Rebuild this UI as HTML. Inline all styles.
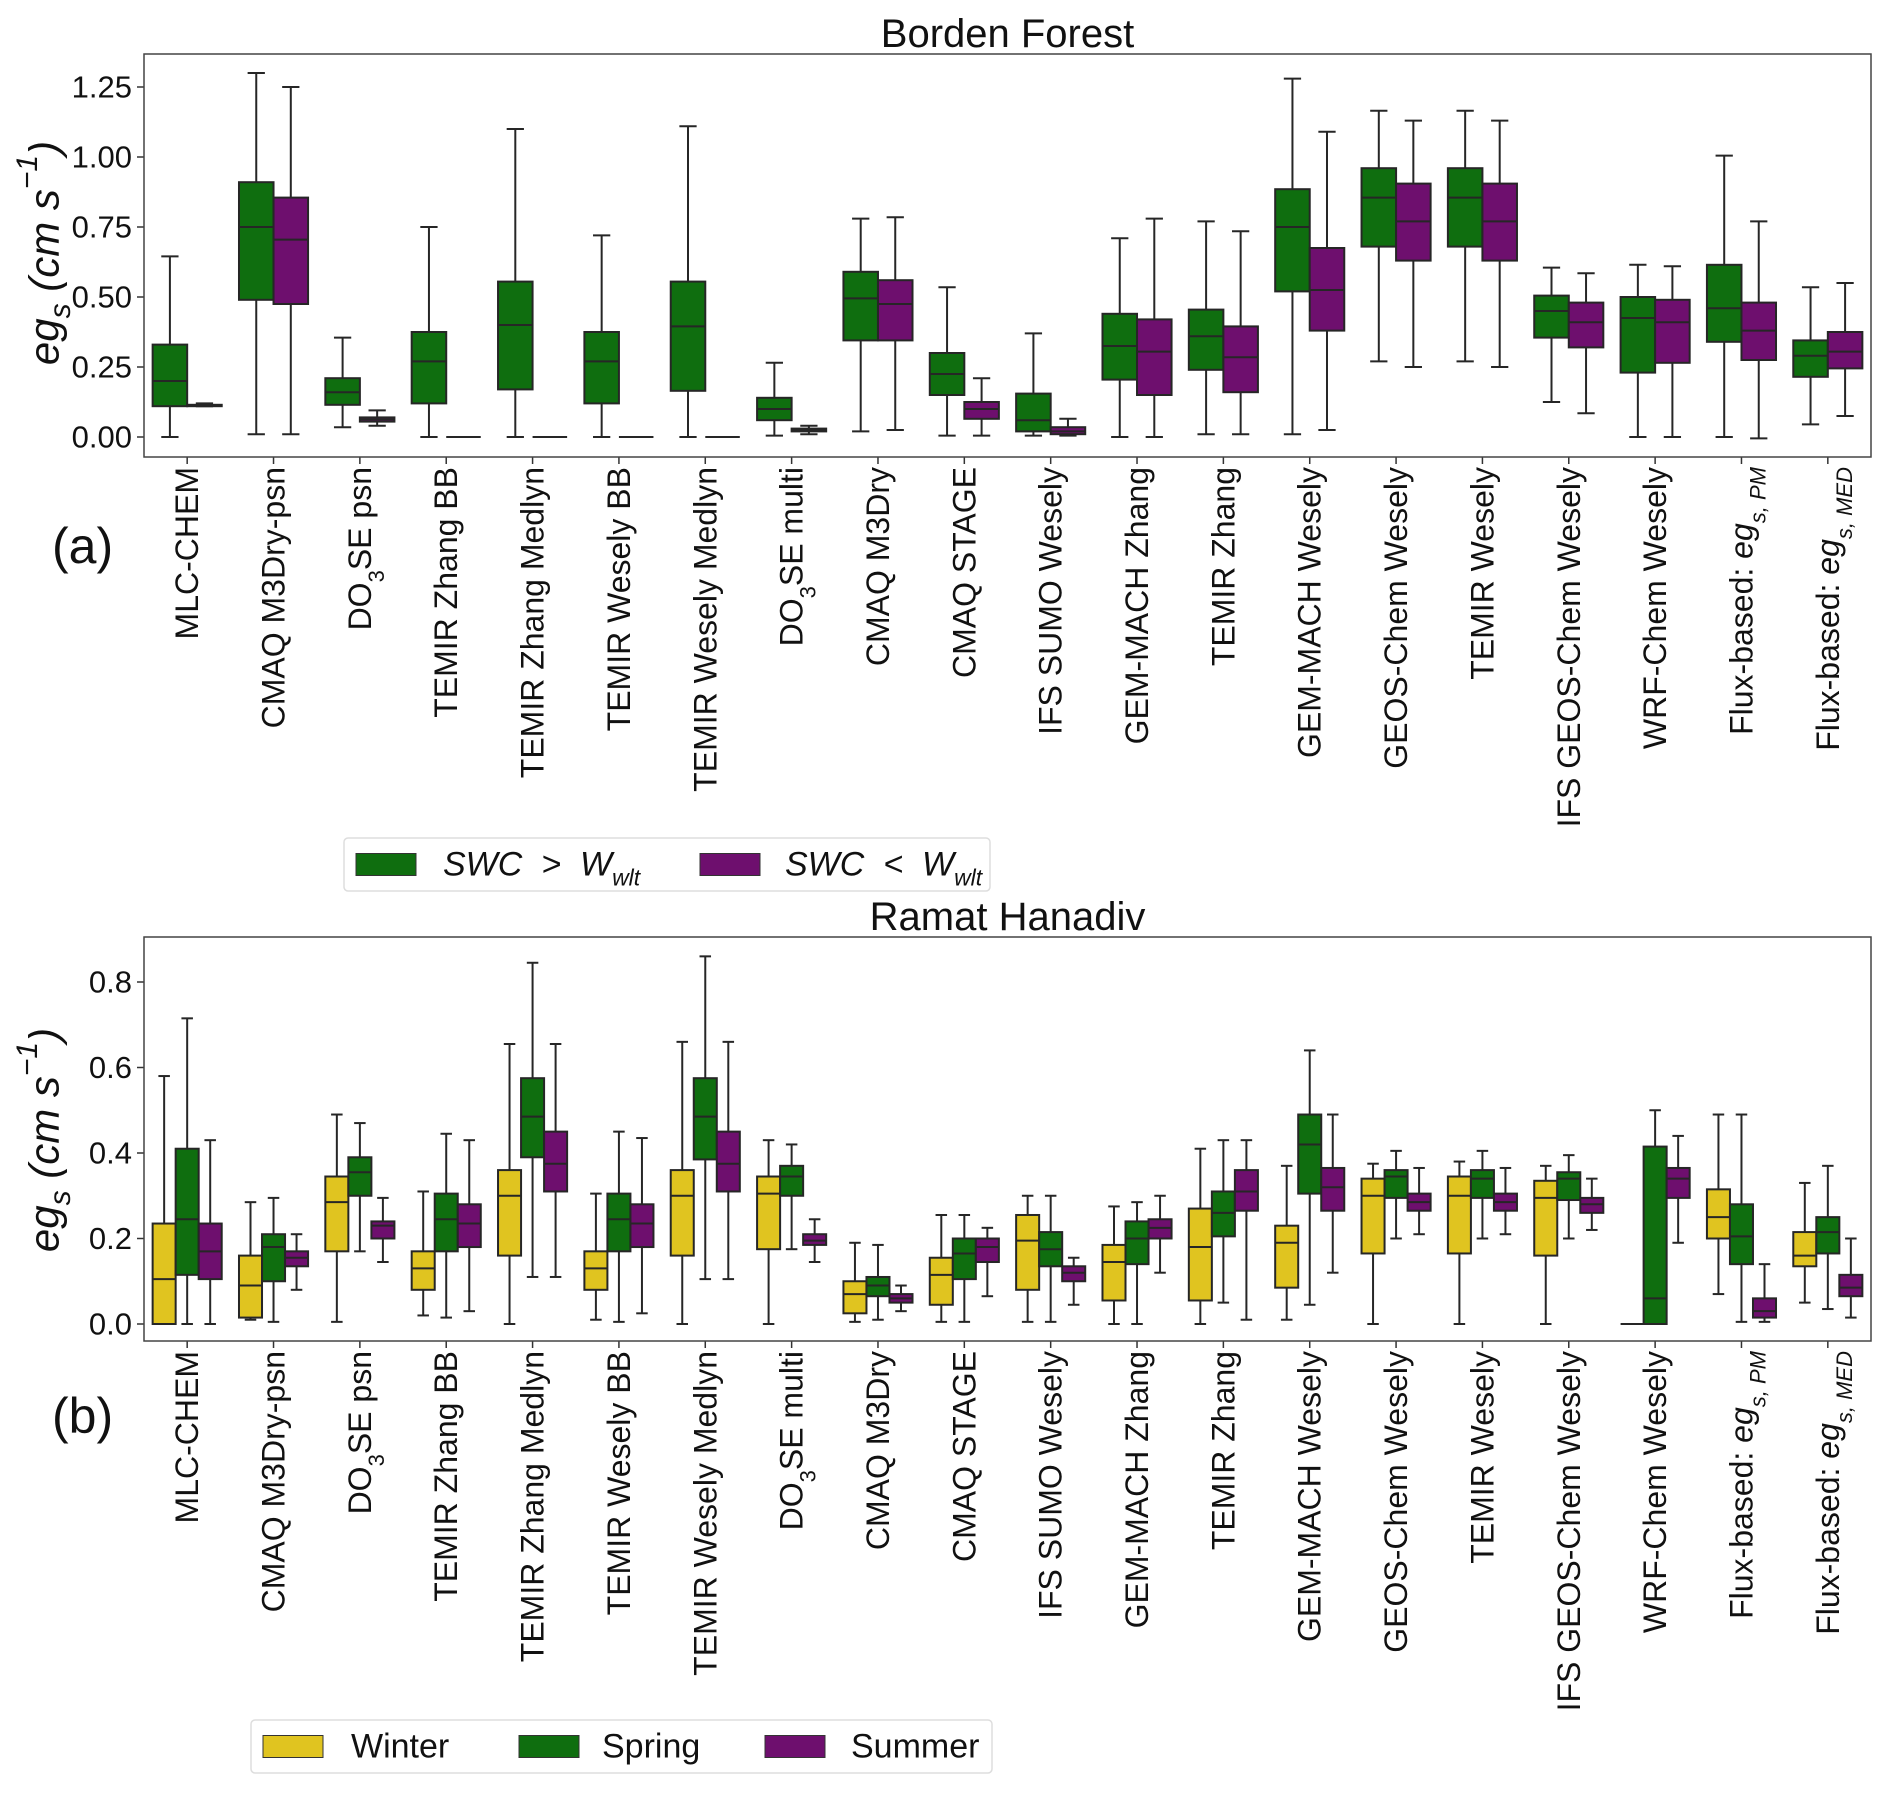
<!DOCTYPE html>
<html><head><meta charset="utf-8">
<style>
html,body{margin:0;padding:0;background:#fff;}
svg{display:block;font-family:"Liberation Sans","DejaVu Sans",sans-serif;}
</style></head>
<body>
<svg id="chart" width="1892" height="1794" viewBox="0 0 1892 1794" xmlns="http://www.w3.org/2000/svg">
<rect width="1892" height="1794" fill="#fff"/>
<g id="panelA"></g>
<g id="panelB"></g>
</svg>
<script>
const categories = ["MLC-CHEM","CMAQ M3Dry-psn","DO3SE psn","TEMIR Zhang BB","TEMIR Zhang Medlyn","TEMIR Wesely BB","TEMIR Wesely Medlyn","DO3SE multi","CMAQ M3Dry","CMAQ STAGE","IFS SUMO Wesely","GEM-MACH Zhang","TEMIR Zhang","GEM-MACH Wesely","GEOS-Chem Wesely","TEMIR Wesely","IFS GEOS-Chem Wesely","WRF-Chem Wesely","Flux-based: PM","Flux-based: MED"];
const aWet = [[0,0.11,0.2,0.33,0.645],[0.01,0.49,0.75,0.91,1.3],[0.035,0.115,0.16,0.21,0.355],[0,0.12,0.27,0.375,0.75],[0,0.17,0.4,0.555,1.1],[0,0.12,0.27,0.375,0.72],[0,0.165,0.395,0.555,1.11],[0.005,0.06,0.1,0.14,0.265],[0.02,0.345,0.495,0.59,0.78],[0.005,0.15,0.225,0.3,0.535],[0.005,0.02,0.06,0.155,0.37],[0,0.205,0.325,0.44,0.71],[0.01,0.24,0.36,0.455,0.77],[0.01,0.52,0.75,0.885,1.28],[0.27,0.68,0.855,0.96,1.165],[0.27,0.68,0.855,0.96,1.165],[0.125,0.355,0.45,0.505,0.605],[0,0.23,0.425,0.5,0.615],[0,0.34,0.46,0.615,1.005],[0.045,0.215,0.29,0.345,0.535]];
const aDry = [[0.11,0.11,0.113,0.115,0.12],[0.01,0.475,0.705,0.855,1.25],[0.04,0.055,0.063,0.07,0.095],[0,0,0,0,0],[0,0,0,0,0],[0,0,0,0,0],[0,0,0,0,0],[0.01,0.02,0.025,0.03,0.04],[0.025,0.345,0.475,0.56,0.785],[0.005,0.065,0.1,0.125,0.21],[0.005,0.01,0.02,0.035,0.065],[0,0.15,0.305,0.42,0.78],[0.01,0.16,0.285,0.395,0.735],[0.025,0.38,0.525,0.675,1.09],[0.25,0.63,0.77,0.905,1.13],[0.25,0.63,0.77,0.905,1.13],[0.085,0.32,0.41,0.48,0.585],[0,0.265,0.41,0.49,0.61],[-0.005,0.275,0.38,0.48,0.77],[0.075,0.245,0.305,0.375,0.55]];
const bWinter = [[0,0,0.105,0.235,0.58],[0.01,0.015,0.09,0.16,0.285],[0.005,0.17,0.285,0.345,0.49],[0.02,0.08,0.13,0.17,0.31],[0,0.16,0.3,0.36,0.655],[0.01,0.08,0.13,0.17,0.305],[0,0.16,0.3,0.36,0.66],[0,0.175,0.305,0.345,0.43],[0.005,0.025,0.07,0.1,0.19],[0.005,0.045,0.115,0.155,0.255],[0.005,0.08,0.195,0.255,0.3],[0,0.055,0.145,0.185,0.275],[0,0.055,0.18,0.27,0.41],[0.01,0.085,0.19,0.23,0.37],[0,0.165,0.3,0.34,0.375],[0,0.165,0.3,0.345,0.38],[0,0.16,0.295,0.335,0.37],[0,0,0,0,0],[0.07,0.2,0.25,0.315,0.49],[0.05,0.135,0.16,0.215,0.33]];
const bSpring = [[0,0.115,0.245,0.41,0.715],[0.005,0.1,0.18,0.21,0.295],[0.17,0.3,0.355,0.39,0.47],[0.015,0.17,0.245,0.305,0.445],[0.11,0.39,0.485,0.575,0.845],[0.005,0.17,0.245,0.305,0.45],[0.105,0.385,0.485,0.575,0.86],[0.175,0.3,0.345,0.37,0.42],[0.01,0.065,0.09,0.11,0.185],[0.005,0.105,0.165,0.2,0.255],[0.005,0.135,0.175,0.215,0.3],[0,0.14,0.2,0.24,0.285],[0.05,0.205,0.26,0.31,0.43],[0.045,0.305,0.42,0.49,0.64],[0.2,0.295,0.345,0.36,0.405],[0.2,0.295,0.34,0.36,0.405],[0.2,0.29,0.34,0.355,0.395],[0,0,0.06,0.415,0.5],[0.005,0.14,0.205,0.28,0.49],[0.035,0.165,0.215,0.25,0.37]];
const bSummer = [[0,0.105,0.17,0.235,0.43],[0.08,0.135,0.155,0.17,0.21],[0.145,0.2,0.23,0.24,0.295],[0.03,0.18,0.235,0.28,0.43],[0.11,0.31,0.375,0.45,0.655],[0.025,0.18,0.235,0.28,0.435],[0.105,0.31,0.375,0.45,0.66],[0.145,0.185,0.195,0.21,0.245],[0.03,0.05,0.06,0.07,0.09],[0.065,0.145,0.18,0.2,0.225],[0.045,0.1,0.12,0.135,0.155],[0.12,0.2,0.225,0.245,0.3],[0.01,0.265,0.31,0.36,0.43],[0.12,0.265,0.32,0.365,0.49],[0.21,0.265,0.285,0.305,0.365],[0.21,0.265,0.285,0.305,0.365],[0.22,0.26,0.28,0.295,0.34],[0.19,0.295,0.34,0.365,0.44],[0.005,0.015,0.03,0.06,0.14],[0.015,0.065,0.085,0.115,0.2]];
const aTicks = [0,0.25,0.5,0.75,1.0,1.25];
const aTickLabels = ["0.00","0.25","0.50","0.75","1.00","1.25"];
const bTicks = [0,0.2,0.4,0.6,0.8];
const bTickLabels = ["0.0","0.2","0.4","0.6","0.8"];

const NS="http://www.w3.org/2000/svg";
const GREEN="#0f6e0f", PURPLE="#6e0f6e", YELLOW="#e0c420", EDGE="#262626";
function mk(tag, attrs, parent){const e=document.createElementNS(NS,tag);for(const k in attrs)e.setAttribute(k,attrs[k]);parent.appendChild(e);return e;}

function drawPanel(g, cfg){
  const {L,R,T,B,y0px,pxPerUnit,series,colors,ticks,tickLabels,title,titleY,labelTop,letter,letterY,ylabelY} = cfg;
  const yScale = v => y0px - v*pxPerUnit;
  const step = (R-L)/categories.length;
  const xScale = i => L + step*(i+0.5);
  const t = mk('text',{x:(L+R)/2,y:titleY,'font-size':40,'text-anchor':'middle','dominant-baseline':'central',fill:'#111'},g);
  t.textContent=title;
  
  
  ticks.forEach((v,i)=>{
    const y=yScale(v);
    const tk=mk('line',{x1:L-7,x2:L,y1:y,y2:y,stroke:'#333','stroke-width':1.5},g);
    
    
    const tl=mk('text',{x:L-12,y:y,'font-size':31,'text-anchor':'end','dominant-baseline':'central',fill:'#111'},g);
    tl.textContent=tickLabels[i];
    
    
  });
  const yl=mk('text',{transform:`translate(44,${ylabelY}) rotate(-90)`,'font-size':42,'text-anchor':'middle','dominant-baseline':'central','font-style':'italic',fill:'#111'},g);
  yl.innerHTML='eg<tspan baseline-shift="sub" font-size="30">s</tspan> (cm s<tspan baseline-shift="super" font-size="30">−1</tspan>)';
  
  
  const ns=series.length, bw=step*0.8/ns;
  categories.forEach((c,i)=>{
    const cx=xScale(i);
    const tk=mk('line',{x1:cx,x2:cx,y1:B,y2:B+7,stroke:'#333','stroke-width':1.5},g);
    
    
    series.forEach((s,j)=>{
      const d=s[i]; const x=cx-step*0.4+j*bw; const xm=x+bw/2;
      const bg=mk('g',{},g);
      
      
      const sw=2;
      mk('line',{x1:xm,x2:xm,y1:yScale(d[0]),y2:yScale(d[1]),stroke:EDGE,'stroke-width':sw},bg);
      mk('line',{x1:xm,x2:xm,y1:yScale(d[3]),y2:yScale(d[4]),stroke:EDGE,'stroke-width':sw},bg);
      mk('line',{x1:xm-bw/4,x2:xm+bw/4,y1:yScale(d[0]),y2:yScale(d[0]),stroke:EDGE,'stroke-width':sw},bg);
      mk('line',{x1:xm-bw/4,x2:xm+bw/4,y1:yScale(d[4]),y2:yScale(d[4]),stroke:EDGE,'stroke-width':sw},bg);
      const h=Math.max(yScale(d[1])-yScale(d[3]),0);
      mk('rect',{x:x,y:yScale(d[3]),width:bw,height:h,fill:colors[j],stroke:EDGE,'stroke-width':sw},bg);
      mk('line',{x1:x,x2:x+bw,y1:yScale(d[2]),y2:yScale(d[2]),stroke:EDGE,'stroke-width':sw},bg);
    });
    const lab=mk('text',{transform:`translate(${cx+11},${labelTop}) rotate(-90)`,'font-size':32,'text-anchor':'end',fill:'#111'},g);
    
    
    if(c.startsWith('DO3SE')) lab.innerHTML='DO<tspan baseline-shift="sub" font-size="22">3</tspan>'+c.slice(3);
    else if(c==='Flux-based: PM') lab.innerHTML='Flux-based: <tspan font-style="italic">eg</tspan><tspan baseline-shift="sub" font-size="22" font-style="italic">s, PM</tspan>';
    else if(c==='Flux-based: MED') lab.innerHTML='Flux-based: <tspan font-style="italic">eg</tspan><tspan baseline-shift="sub" font-size="22" font-style="italic">s, MED</tspan>';
    else lab.textContent=c;
  });
  const fr=mk('rect',{x:L,y:T,width:R-L,height:B-T,fill:'none',stroke:'#444','stroke-width':1.5},g);
  
  
  const lt=mk('text',{x:52,y:letterY,'font-size':50,'dominant-baseline':'central',fill:'#111'},g);
  lt.textContent=letter;
  
  
}

drawPanel(document.getElementById('panelA'),{L:144,R:1871,T:54,B:457,y0px:437,pxPerUnit:280,series:[aWet,aDry],colors:[GREEN,PURPLE],ticks:aTicks,tickLabels:aTickLabels,title:'Borden Forest',titleY:34,labelTop:467,letter:'(a)',letterY:546,ylabelY:253});
drawPanel(document.getElementById('panelB'),{L:144,R:1871,T:937,B:1341,y0px:1324,pxPerUnit:427.5,series:[bWinter,bSpring,bSummer],colors:[YELLOW,GREEN,PURPLE],ticks:bTicks,tickLabels:bTickLabels,title:'Ramat Hanadiv',titleY:917,labelTop:1351,letter:'(b)',letterY:1416,ylabelY:1140});

function legend(x,y,w,h,items){
  const svg=document.getElementById('chart');
  const g=mk('g',{},svg);
  
  
  mk('rect',{x:x,y:y,width:w,height:h,rx:4,fill:'#fff',stroke:'#ddd','stroke-width':1.5},g);
  items.forEach(it=>{
    const e=mk('g',{},g);
    
    
    mk('rect',{x:it.px,y:y+h/2-11,width:60,height:22,fill:it.color,stroke:'#333','stroke-width':1},e);
    const t=mk('text',{x:it.tx,y:y+h/2,'font-size':34,'dominant-baseline':'central',fill:'#111'},e);
    t.innerHTML=it.html;
  });
}
legend(344,838,646,53,[
 {px:356,tx:443,color:GREEN,html:'<tspan font-style="italic" xml:space="preserve">SWC  &gt;  W</tspan><tspan font-style="italic" baseline-shift="sub" font-size="23">wlt</tspan>'},
 {px:700,tx:785,color:PURPLE,html:'<tspan font-style="italic" xml:space="preserve">SWC  &lt;  W</tspan><tspan font-style="italic" baseline-shift="sub" font-size="23">wlt</tspan>'}]);
legend(251,1720,741,53,[
 {px:263,tx:351,color:YELLOW,html:'Winter'},
 {px:519,tx:602,color:GREEN,html:'Spring'},
 {px:765,tx:851,color:PURPLE,html:'Summer'}]);
</script>
</body></html>
